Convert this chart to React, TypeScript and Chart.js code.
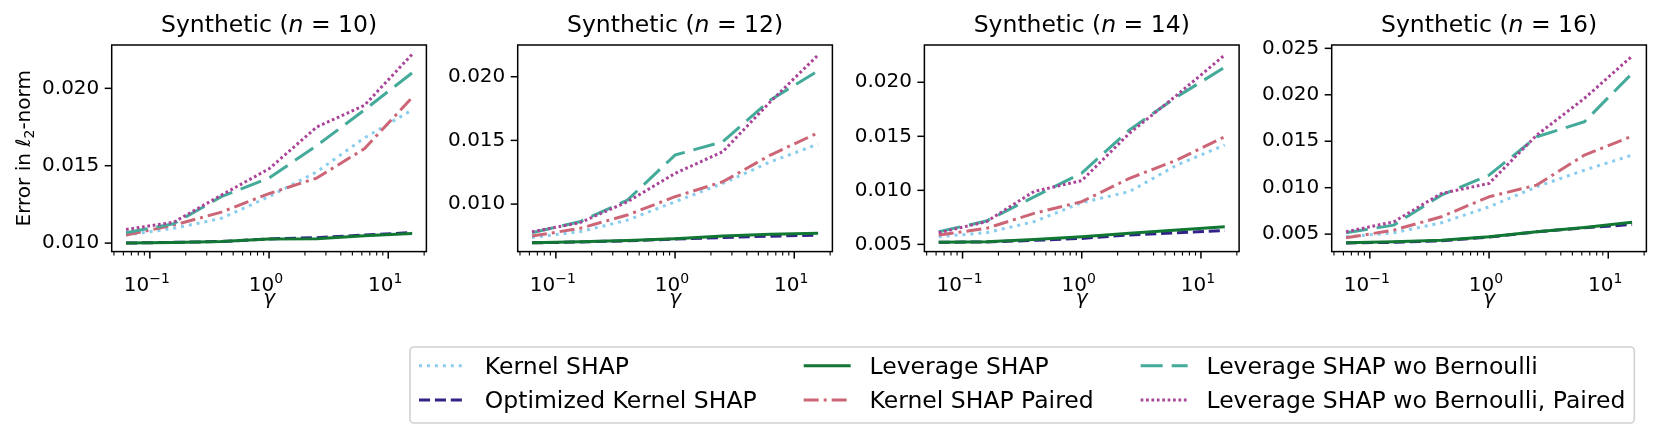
import React, { useEffect, useRef } from "react";
import { Chart, registerables } from "chart.js";

Chart.register(...registerables);

// ---------------- data ----------------
const gammaValues = [0.0631, 0.1585, 0.3981, 1, 2.512, 6.31, 15.85];
const panelSizes = [10, 12, 14, 16];
const seriesLabels = [
  "Kernel SHAP",
  "Optimized Kernel SHAP",
  "Leverage SHAP",
  "Kernel SHAP Paired",
  "Leverage SHAP wo Bernoulli",
  "Leverage SHAP wo Bernoulli, Paired",
];

// n = 10
const kernelShapN10 = [0.01052, 0.01095, 0.0116, 0.013, 0.0146, 0.0168, 0.0186];
const optimizedKernelShapN10 = [0.01, 0.01005, 0.0101, 0.01027, 0.01035, 0.01052, 0.01068];
const leverageShapN10 = [0.01, 0.01004, 0.0101, 0.01026, 0.01028, 0.01047, 0.01062];
const kernelShapPairedN10 = [0.01052, 0.01116, 0.012, 0.0132, 0.0142, 0.0161, 0.0194];
const leverageWoBernoulliN10 = [0.01067, 0.01125, 0.013, 0.0142, 0.0163, 0.0186, 0.021];
const leverageWoBernoulliPairedN10 = [0.01088, 0.01135, 0.0131, 0.0148, 0.0175, 0.0189, 0.0222];

// n = 12
const kernelShapN12 = [0.00738, 0.00783, 0.00874, 0.01018, 0.01162, 0.01332, 0.01471];
const optimizedKernelShapN12 = [0.00696, 0.00702, 0.00712, 0.00725, 0.00738, 0.00748, 0.00757];
const leverageShapN12 = [0.00696, 0.00704, 0.00715, 0.00728, 0.00749, 0.00764, 0.00772];
const kernelShapPairedN12 = [0.00749, 0.00809, 0.00914, 0.01058, 0.01175, 0.01385, 0.0156];
const leverageWoBernoulliN12 = [0.00775, 0.00861, 0.01031, 0.01385, 0.0149, 0.01817, 0.02047];
const leverageWoBernoulliPairedN12 = [0.00783, 0.00853, 0.01018, 0.01241, 0.01411, 0.01804, 0.0217];

// n = 14
const kernelShapN14 = [0.00571, 0.00608, 0.0071, 0.00886, 0.00988, 0.01235, 0.0142];
const optimizedKernelShapN14 = [0.00519, 0.00522, 0.00537, 0.00555, 0.00587, 0.00608, 0.00627];
const leverageShapN14 = [0.00519, 0.00525, 0.00546, 0.00571, 0.00602, 0.00633, 0.00664];
const kernelShapPairedN14 = [0.00586, 0.00648, 0.00787, 0.00895, 0.01111, 0.01281, 0.01497];
const leverageWoBernoulliN14 = [0.00617, 0.00716, 0.0094, 0.0116, 0.01559, 0.01867, 0.02139];
const leverageWoBernoulliPairedN14 = [0.00608, 0.0071, 0.0099, 0.0109, 0.01528, 0.01883, 0.02253];

// n = 16
const kernelShapN16 = [0.00471, 0.00514, 0.00622, 0.00794, 0.0101, 0.01189, 0.01351];
const optimizedKernelShapN16 = [0.00405, 0.00412, 0.00428, 0.00468, 0.00525, 0.00568, 0.00604];
const leverageShapN16 = [0.00407, 0.00417, 0.00435, 0.00471, 0.00525, 0.00572, 0.00629];
const kernelShapPairedN16 = [0.0046, 0.00543, 0.00687, 0.00902, 0.01028, 0.01351, 0.01555];
const leverageWoBernoulliN16 = [0.00514, 0.00597, 0.0092, 0.01135, 0.01548, 0.0171, 0.0223];
const leverageWoBernoulliPairedN16 = [0.00525, 0.00633, 0.00938, 0.01046, 0.01566, 0.01961, 0.02417];

const panelSeries = [
  [kernelShapN10, optimizedKernelShapN10, leverageShapN10, kernelShapPairedN10, leverageWoBernoulliN10, leverageWoBernoulliPairedN10],
  [kernelShapN12, optimizedKernelShapN12, leverageShapN12, kernelShapPairedN12, leverageWoBernoulliN12, leverageWoBernoulliPairedN12],
  [kernelShapN14, optimizedKernelShapN14, leverageShapN14, kernelShapPairedN14, leverageWoBernoulliN14, leverageWoBernoulliPairedN14],
  [kernelShapN16, optimizedKernelShapN16, leverageShapN16, kernelShapPairedN16, leverageWoBernoulliN16, leverageWoBernoulliPairedN16],
];

const yTickValues = [
  [0.01, 0.015, 0.02],
  [0.01, 0.015, 0.02],
  [0.005, 0.01, 0.015, 0.02],
  [0.005, 0.01, 0.015, 0.02, 0.025],
];
const xMajorTicks = [0.1, 1, 10];

// ---------------- axis limits / layout / styles ----------------
const yLimits = [
  [0.00945, 0.0228],
  [0.00627, 0.02249],
  [0.00433, 0.02345],
  [0.00312, 0.02536],
];
const X_MIN = Math.pow(10, -1.32);
const X_MAX = Math.pow(10, 1.32);

const W = 1661;
const H = 437;
const plotLefts = [111.7, 517.7, 924.4, 1331.7];
const PLOT_W = 314.7;
const PLOT_TOP = 45;
const PLOT_BOTTOM = 251.6;
const Y_AXIS_W = 100;
const X_AXIS_H = 40;

const seriesColors = ["#88CCEE", "#332288", "#117733", "#CC6677", "#44AA99", "#AA4499"];
const seriesDashes = [[3, 4.95], [11.1, 4.8], [], [15, 5, 3, 5], [22, 9], [2.7, 2.7]];
const LINE_W = 3;

const FONT = "'DejaVu Sans', 'Noto Sans', sans-serif";
const TICK_SIZE = 20;
const TITLE_SIZE = 23.5;
const LEGEND_SIZE = 23.5;

type Piece = { text: string; size: number; italic?: boolean; dy?: number };

function fontOf(p: Piece) {
  return `${p.italic ? "italic " : ""}${p.size}px ${FONT}`;
}

function drawPieces(ctx: CanvasRenderingContext2D, pieces: Piece[], x: number, y: number, align: "center" | "left") {
  let total = 0;
  const widths = pieces.map((p) => {
    ctx.font = fontOf(p);
    const w = ctx.measureText(p.text).width;
    total += w;
    return w;
  });
  let cx = align === "center" ? x - total / 2 : x;
  ctx.textAlign = "left";
  ctx.textBaseline = "alphabetic";
  pieces.forEach((p, i) => {
    ctx.font = fontOf(p);
    ctx.fillText(p.text, cx, y + (p.dy || 0));
    cx += widths[i];
  });
}

function line(ctx: CanvasRenderingContext2D, x1: number, y1: number, x2: number, y2: number) {
  ctx.beginPath();
  ctx.moveTo(x1, y1);
  ctx.lineTo(x2, y2);
  ctx.stroke();
}

function drawLegend(ctx: CanvasRenderingContext2D) {
  const boxLeft = 410;
  const boxTop = 347;
  const boxBottom = 423;
  const sampleLen = 47;
  const textPad = 18.8;
  const colGap = 47;
  const rowSample = [365.7, 400];
  const rowBase = [374, 408.3];
  ctx.font = `${LEGEND_SIZE}px ${FONT}`;
  const cols = [
    [0, 1],
    [2, 3],
    [4, 5],
  ];
  // layout columns
  const colX: number[] = [];
  let x = boxLeft + 9;
  cols.forEach((c) => {
    colX.push(x);
    const maxW = Math.max(...c.map((i) => ctx.measureText(seriesLabels[i]).width));
    x += sampleLen + textPad + maxW + colGap;
  });
  const boxRight = x - colGap + 9;
  // box
  ctx.save();
  ctx.beginPath();
  const r = 4;
  ctx.moveTo(boxLeft + r, boxTop);
  ctx.lineTo(boxRight - r, boxTop);
  ctx.arcTo(boxRight, boxTop, boxRight, boxTop + r, r);
  ctx.lineTo(boxRight, boxBottom - r);
  ctx.arcTo(boxRight, boxBottom, boxRight - r, boxBottom, r);
  ctx.lineTo(boxLeft + r, boxBottom);
  ctx.arcTo(boxLeft, boxBottom, boxLeft, boxBottom - r, r);
  ctx.lineTo(boxLeft, boxTop + r);
  ctx.arcTo(boxLeft, boxTop, boxLeft + r, boxTop, r);
  ctx.closePath();
  ctx.fillStyle = "rgba(255,255,255,0.8)";
  ctx.fill();
  ctx.strokeStyle = "#d0d0d0";
  ctx.lineWidth = 1.6;
  ctx.stroke();
  cols.forEach((c, ci) => {
    c.forEach((si, ri) => {
      ctx.strokeStyle = seriesColors[si];
      ctx.lineWidth = LINE_W;
      ctx.lineCap = "butt";
      ctx.setLineDash(seriesDashes[si]);
      line(ctx, colX[ci], rowSample[ri], colX[ci] + sampleLen, rowSample[ri]);
      ctx.setLineDash([]);
      ctx.fillStyle = "#000";
      drawPieces(ctx, [{ text: seriesLabels[si], size: LEGEND_SIZE }], colX[ci] + sampleLen + textPad, rowBase[ri], "left");
    });
  });
  ctx.restore();
}

function makeDecorPlugin(panel: number) {
  return {
    id: "decor" + panel,
    afterDraw(chart: any) {
      const ctx: CanvasRenderingContext2D = chart.ctx;
      const a = chart.chartArea;
      const xs = chart.scales.x;
      const ys = chart.scales.y;
      ctx.save();
      ctx.strokeStyle = "#000";
      ctx.fillStyle = "#000";
      ctx.setLineDash([]);
      // frame
      ctx.lineWidth = 1.5;
      ctx.strokeRect(a.left, a.top, a.right - a.left, a.bottom - a.top);
      // y ticks
      yTickValues[panel].forEach((v) => {
        const y = ys.getPixelForValue(v);
        line(ctx, a.left - 7, y, a.left, y);
      });
      // x ticks (major + minor)
      for (let e = -2; e <= 1; e++) {
        for (let k = 1; k <= 9; k++) {
          const v = k * Math.pow(10, e);
          if (v < X_MIN || v > X_MAX) continue;
          const px = xs.getPixelForValue(v);
          const major = k === 1;
          ctx.lineWidth = major ? 1.5 : 1.1;
          line(ctx, px, a.bottom, px, a.bottom + (major ? 7 : 4));
        }
      }
      // x tick labels
      xMajorTicks.forEach((v) => {
        const px = xs.getPixelForValue(v);
        const exp = Math.round(Math.log10(v));
        const expText = exp < 0 ? "\u2212" + Math.abs(exp) : String(exp);
        drawPieces(
          ctx,
          [
            { text: "10", size: TICK_SIZE },
            { text: expText, size: 14, dy: -8 },
          ],
          px - 3,
          290.5,
          "center"
        );
      });
      const cx = (a.left + a.right) / 2;
      // title
      drawPieces(
        ctx,
        [
          { text: "Synthetic (", size: TITLE_SIZE },
          { text: "n", size: TITLE_SIZE, italic: true },
          { text: " = " + panelSizes[panel] + ")", size: TITLE_SIZE },
        ],
        cx,
        32,
        "center"
      );
      // x label
      drawPieces(ctx, [{ text: "\u03b3", size: TICK_SIZE, italic: true }], cx, 304, "center");
      if (panel === 0) {
        // y label
        ctx.save();
        ctx.translate(30, (a.top + a.bottom) / 2);
        ctx.rotate(-Math.PI / 2);
        drawPieces(
          ctx,
          [
            { text: "Error in ", size: TICK_SIZE },
            { text: "\u2113", size: TICK_SIZE, italic: true },
            { text: "2", size: 14, dy: 4 },
            { text: "-norm", size: TICK_SIZE },
          ],
          0,
          0,
          "center"
        );
        ctx.restore();
        drawLegend(ctx);
      }
      ctx.restore();
    },
  };
}

function makeConfig(panel: number): any {
  const L = plotLefts[panel];
  const series = panelSeries[panel];
  return {
    type: "line",
    data: {
      datasets: series.map((vals, i) => ({
        label: seriesLabels[i],
        data: gammaValues.map((g, j) => ({ x: g, y: vals[j] })),
        borderColor: seriesColors[i],
        backgroundColor: seriesColors[i],
        borderWidth: LINE_W,
        borderDash: seriesDashes[i],
        borderCapStyle: "butt",
        borderJoinStyle: "round",
        pointRadius: 0,
        pointHoverRadius: 0,
        tension: 0,
        fill: false,
        order: series.length - i,
      })),
    },
    options: {
      responsive: false,
      animation: false,
      events: [],
      layout: {
        padding: {
          left: L - Y_AXIS_W,
          top: PLOT_TOP,
          right: W - (L + PLOT_W),
          bottom: H - PLOT_BOTTOM - X_AXIS_H,
        },
      },
      plugins: {
        legend: { display: false },
        tooltip: { enabled: false },
        title: { display: false },
      },
      scales: {
        x: {
          type: "logarithmic",
          min: X_MIN,
          max: X_MAX,
          grid: { display: false, drawTicks: false },
          border: { display: false },
          ticks: { display: false },
          afterBuildTicks: (s: any) => {
            s.ticks = xMajorTicks.map((v) => ({ value: v }));
          },
          afterFit: (s: any) => {
            s.height = X_AXIS_H;
          },
        },
        y: {
          type: "linear",
          min: yLimits[panel][0],
          max: yLimits[panel][1],
          grid: { display: false, drawTicks: false },
          border: { display: false },
          ticks: {
            color: "#000",
            padding: 12.4,
            font: { family: FONT, size: TICK_SIZE },
            callback: (v: any) => Number(v).toFixed(3),
          },
          afterBuildTicks: (s: any) => {
            s.ticks = yTickValues[panel].map((v) => ({ value: v }));
          },
          afterFit: (s: any) => {
            s.width = Y_AXIS_W;
          },
        },
      },
    },
    plugins: [makeDecorPlugin(panel)],
  };
}

export default function App() {
  const canvases = useRef<(HTMLCanvasElement | null)[]>([]);
  useEffect(() => {
    const charts = panelSizes.map((_, i) => new Chart(canvases.current[i] as HTMLCanvasElement, makeConfig(i)));
    return () => charts.forEach((c) => c.destroy());
  }, []);
  return (
    <div style={{ position: "absolute", left: 0, top: 0, width: W, height: H, background: "#fff" }}>
      {panelSizes.map((n, i) => (
        <canvas
          key={n}
          ref={(el) => {
            canvases.current[i] = el;
          }}
          width={W}
          height={H}
          style={{ position: "absolute", left: 0, top: 0, width: W, height: H }}
        />
      ))}
    </div>
  );
}
